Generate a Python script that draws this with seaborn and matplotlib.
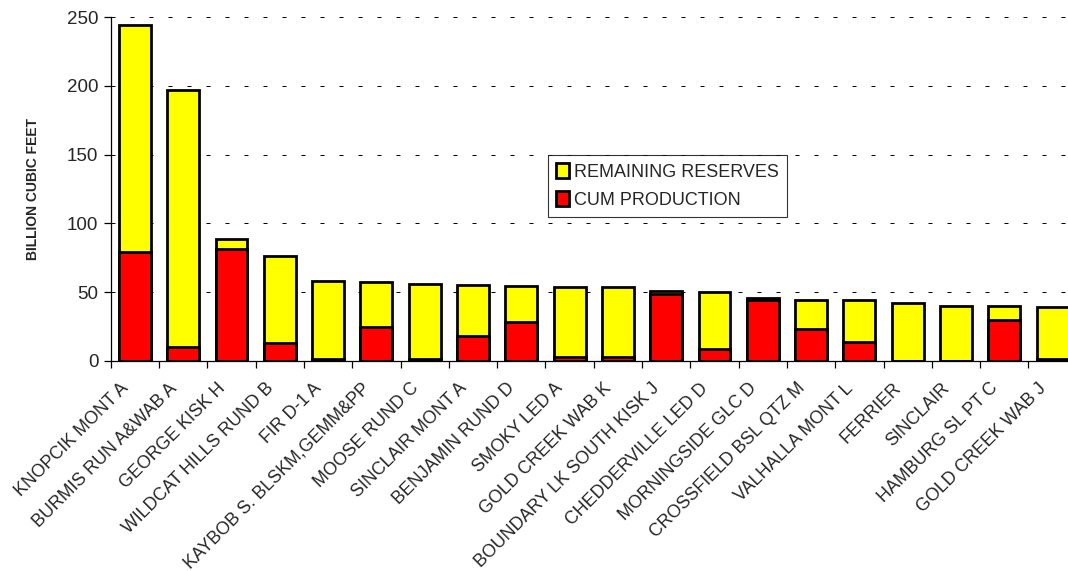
import numpy as np
import matplotlib
matplotlib.use('Agg')
import matplotlib.pyplot as plt
import matplotlib.transforms as mtransforms
import seaborn as sns
from matplotlib.patches import Patch

fields = ['KNOPCIK MONT A', 'BURMIS RUN A&WAB A', 'GEORGE KISK H', 'WILDCAT HILLS RUND B',
          'FIR D-1 A', 'KAYBOB S. BLSKM,GEMM&PP', 'MOOSE RUND C', 'SINCLAIR MONT A',
          'BENJAMIN RUND D', 'SMOKY LED A', 'GOLD CREEK WAB K', 'BOUNDARY LK SOUTH KISK J',
          'CHEDDERVILLE LED D', 'MORNINGSIDE GLC D', 'CROSSFIELD BSL QTZ M', 'VALHALLA MONT L',
          'FERRIER', 'SINCLAIR', 'HAMBURG SL PT C', 'GOLD CREEK WAB J']
cum_production = [79.4, 10.2, 81.1, 12.7, 1.0, 24.3, 1.0, 18.0, 27.9, 3.0,
                  2.5, 48.5, 8.3, 44.2, 23.3, 13.6, 0.0, 0.0, 29.4, 1.0]
remaining_reserves = [165.0, 186.7, 7.3, 63.5, 57.0, 32.8, 54.8, 37.3, 26.7, 50.9,
                      50.9, 2.2, 41.5, 1.7, 20.7, 30.4, 42.0, 39.6, 10.2, 38.4]
total = [c + r for c, r in zip(cum_production, remaining_reserves)]

sns.set_style('white')
plt.rcParams['font.family'] = ['Liberation Sans', 'DejaVu Sans']

fig = plt.figure(figsize=(10.68, 5.71), dpi=100)
ax = fig.add_axes([0.1037, 0.3683, 0.9045, 0.6014])

sns.barplot(x=fields, y=total, color='#FFFF00', saturation=1, edgecolor='black',
            linewidth=2.0, width=0.66, ax=ax, zorder=3)
sns.barplot(x=fields, y=cum_production, color='#FF0000', saturation=1, edgecolor='black',
            linewidth=2.0, width=0.66, ax=ax, zorder=4)

ax.set_xlim(-0.5, len(fields) - 0.5)
ax.set_ylim(0, 250)
ax.set_yticks(np.arange(0, 251, 50))
for y in [50, 100, 150, 200, 250]:
    ax.axhline(y, color='black', lw=0.72, ls=(0, (4, 15)), zorder=1)

for s in ['top', 'right']:
    ax.spines[s].set_visible(False)
for s in ['left', 'bottom']:
    ax.spines[s].set_color('black')
    ax.spines[s].set_linewidth(0.9)

ax.tick_params(axis='y', direction='out', length=5, width=0.9, color='black',
               left=True, labelsize=13.5, pad=4)
ax.set_xticks(np.arange(len(fields)))
ax.set_xticks(np.arange(len(fields) + 1) - 0.5, minor=True)
ax.tick_params(axis='x', which='major', length=0, labelsize=12.8, pad=18)
ax.tick_params(axis='x', which='minor', direction='out', length=5, width=0.9,
               color='black', bottom=True)
ax.set_xticklabels(fields, rotation=45, ha='right', va='center', rotation_mode='anchor')
shift = mtransforms.ScaledTranslation(-0.09, 0, fig.dpi_scale_trans)
for lbl in ax.get_xticklabels():
    lbl.set_transform(lbl.get_transform() + shift)

ax.set_xlabel('')
ax.set_ylabel('BILLION CUBIC FEET', fontsize=10, fontweight='bold')
ax.yaxis.set_label_coords(-0.0737, 0.5)

handles = [Patch(facecolor='#FFFF00', edgecolor='black', linewidth=2.0, label='REMAINING RESERVES'),
           Patch(facecolor='#FF0000', edgecolor='black', linewidth=2.0, label='CUM PRODUCTION')]
leg = ax.legend(handles=handles, loc='upper left', bbox_to_anchor=(0.4527, 0.599),
                borderaxespad=0, fontsize=13, fancybox=False, frameon=True,
                handlelength=0.7, handleheight=0.9, handletextpad=0.3,
                labelspacing=0.55, borderpad=0.45)
leg.get_frame().set_edgecolor('black')
leg.get_frame().set_linewidth(0.8)
leg.set_zorder(5)

fig.savefig('out.png', dpi=100)
